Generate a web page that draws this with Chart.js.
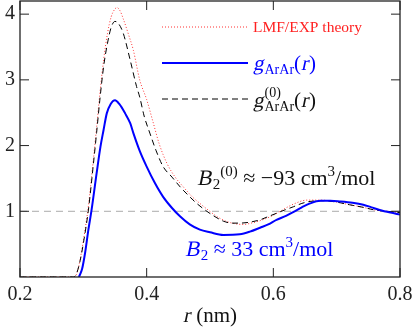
<!DOCTYPE html>
<html>
<head>
<meta charset="utf-8">
<script src="https://cdn.jsdelivr.net/npm/chart.js@4/dist/chart.umd.min.js"></script>
</head>
<body style="margin:0">
<div style="width:415px;height:331px"><canvas id="gr" width="415" height="331"></canvas></div>
<script>
// axis ticks
const xTicks = [0.2, 0.4, 0.6, 0.8]
const yTicks = [1, 2, 3, 4]

// g_ArAr(r), full (blue)
const rFull = [0.293, 0.298, 0.303, 0.308, 0.313, 0.321, 0.327, 0.332, 0.337, 0.343, 0.350, 0.357,
  0.366, 0.374, 0.379, 0.389, 0.400, 0.413, 0.426, 0.440, 0.453, 0.468, 0.484, 0.500, 0.521, 0.547,
  0.563, 0.579, 0.592, 0.605, 0.620, 0.632, 0.645, 0.658, 0.674, 0.690, 0.705, 0.725, 0.742, 0.755,
  0.768, 0.785, 0.800]
const gFull = [0, 0.12, 0.38, 0.72, 1.02, 1.58, 1.98, 2.24, 2.49, 2.63, 2.69, 2.63,
  2.49, 2.34, 2.19, 1.92, 1.68, 1.43, 1.22, 1.05, 0.92, 0.80, 0.72, 0.68, 0.64, 0.65,
  0.69, 0.75, 0.80, 0.87, 0.93, 0.99, 1.06, 1.12, 1.16, 1.16, 1.15, 1.13, 1.10, 1.06,
  1.02, 0.98, 0.95]

// g^(0)_ArAr(r), reference system (black dashed)
const rRef = [0.200, 0.285, 0.2895, 0.295, 0.300, 0.308, 0.316, 0.321, 0.326, 0.332, 0.338, 0.344,
  0.350, 0.356, 0.363, 0.374, 0.384, 0.389, 0.396, 0.405, 0.415, 0.426, 0.440, 0.453, 0.466, 0.479,
  0.495, 0.511, 0.521, 0.535, 0.547, 0.560, 0.579, 0.592, 0.605, 0.618, 0.632, 0.645, 0.658, 0.679,
  0.700, 0.720, 0.742, 0.760, 0.780, 0.800]
const gRef = [0, 0, 0.06, 0.25, 0.51, 1.02, 1.73, 2.20, 2.69, 3.20, 3.55, 3.80,
  3.89, 3.85, 3.71, 3.30, 2.90, 2.74, 2.45, 2.19, 1.92, 1.68, 1.52, 1.37, 1.24, 1.12,
  1.00, 0.90, 0.85, 0.82, 0.82, 0.83, 0.87, 0.92, 0.97, 1.02, 1.07, 1.12, 1.15, 1.16,
  1.14, 1.10, 1.06, 1.02, 1.00, 0.98]

// LMF/EXP theory (red dotted)
const rLmf = [0.200, 0.285, 0.290, 0.295, 0.300, 0.308, 0.316, 0.321, 0.326, 0.332, 0.338, 0.344,
  0.350, 0.353, 0.358, 0.363, 0.371, 0.379, 0.389, 0.400, 0.410, 0.420, 0.432, 0.445, 0.458, 0.471,
  0.484, 0.497, 0.511, 0.525, 0.540, 0.553, 0.565, 0.580, 0.600, 0.616, 0.632, 0.653, 0.675, 0.700,
  0.720, 0.742, 0.760, 0.780, 0.800]
const gLmf = [0, 0, 0.06, 0.27, 0.55, 1.08, 1.80, 2.28, 2.78, 3.30, 3.70, 3.96,
  4.08, 4.10, 4.05, 3.93, 3.70, 3.45, 3.00, 2.70, 2.36, 2.02, 1.73, 1.52, 1.37, 1.23,
  1.12, 1.02, 0.92, 0.85, 0.81, 0.80, 0.82, 0.86, 0.94, 1.03, 1.11, 1.17, 1.17, 1.14,
  1.10, 1.06, 1.02, 1.00, 0.98]

// g = 1 reference line
const rOne = [0.2, 0.8]
const gOne = [1, 1]

const FONT = '"Liberation Serif", "DejaVu Serif", serif'
const BASE = '20px ' + FONT
const pts = (xs, ys) => xs.map((x, i) => ({ x, y: ys[i] }))

// one 20px face for everything; size and slant come from the transform
DrawPiece = (ctx, t, x, y, s, italic) => {
    const k = s / 20
    ctx.save()
    ctx.translate(x, y)
    ctx.scale(k, k)
    if (italic) ctx.transform(1, 0, -0.21, 1, 0, 0)
    ctx.font = BASE
    ctx.fillText(t, 0, 0)
    const w = ctx.measureText(t).width * k
    ctx.restore()
    return w
}

// draw a run of text pieces (for sub/superscripts)
DrawRuns = (ctx, x, y, color, runs) => {
    ctx.save()
    ctx.fillStyle = color
    ctx.textAlign = 'left'
    ctx.textBaseline = 'alphabetic'
    runs.forEach(r => {
        if (r.stack) {
            let w = 0
            r.stack.forEach(p => { w = Math.max(w, DrawPiece(ctx, p.t, x, y + p.dy, p.s, p.i)) })
            x += w
        } else {
            x += DrawPiece(ctx, r.t, x, y + (r.dy || 0), r.s, r.i) + (r.i ? 1 : 0)
        }
    })
    ctx.restore()
}

RunWidth = (ctx, runs) => {
    ctx.save()
    ctx.font = BASE
    const w = runs.reduce((acc, r) => acc + ctx.measureText(r.t).width * r.s / 20 + (r.i ? 1 : 0), 0)
    ctx.restore()
    return w
}

const frameAndText = {
    id: 'frameAndText',
    afterDraw(chart) {
        const { ctx, chartArea: a, scales: { x, y } } = chart
        ctx.save()
        // frame
        ctx.strokeStyle = '#222'
        ctx.lineWidth = 1.3
        ctx.strokeRect(a.left, a.top, a.right - a.left, a.bottom - a.top)
        // inward ticks on all sides
        ctx.lineWidth = 1
        ctx.beginPath()
        xTicks.forEach(v => {
            const px = x.getPixelForValue(v)
            ctx.moveTo(px, a.bottom); ctx.lineTo(px, a.bottom - 9)
            ctx.moveTo(px, a.top); ctx.lineTo(px, a.top + 9)
        })
        yTicks.forEach(v => {
            const py = y.getPixelForValue(v)
            ctx.moveTo(a.left, py); ctx.lineTo(a.left + 9, py)
            ctx.moveTo(a.right, py); ctx.lineTo(a.right - 9, py)
        })
        ctx.stroke()

        // legend
        const lx0 = 162, lx1 = 248, tx = 253
        ctx.lineWidth = 1
        ctx.strokeStyle = '#ff3030'
        ctx.setLineDash([1, 2])
        ctx.beginPath(); ctx.moveTo(lx0, 27); ctx.lineTo(lx1, 27); ctx.stroke()
        ctx.setLineDash([])
        ctx.strokeStyle = '#0000ff'
        ctx.lineWidth = 2
        ctx.beginPath(); ctx.moveTo(lx0, 63); ctx.lineTo(lx1, 63); ctx.stroke()
        ctx.strokeStyle = '#000'
        ctx.lineWidth = 1
        ctx.setLineDash([6, 4])
        ctx.beginPath(); ctx.moveTo(lx0, 99); ctx.lineTo(lx1, 99); ctx.stroke()
        ctx.setLineDash([])
        ctx.restore()

        DrawRuns(ctx, tx, 32, '#ff2020', [{ t: 'LMF/EXP theory', s: 15.5 }])
        DrawRuns(ctx, tx, 70, '#0000ff', [
            { t: 'g', s: 21, i: true },
            { t: 'ArAr', s: 14, dy: 4 },
            { t: '(', s: 21 }, { t: 'r', s: 21, i: true }, { t: ')', s: 21 }
        ])
        DrawRuns(ctx, tx, 107, '#111', [
            { t: 'g', s: 21, i: true },
            { stack: [{ t: '(0)', s: 14, dy: -10 }, { t: 'ArAr', s: 14, dy: 4 }] },
            { t: '(', s: 21 }, { t: 'r', s: 21, i: true }, { t: ')', s: 21 }
        ])

        // annotations
        DrawRuns(ctx, x.getPixelForValue(0.4795), y.getPixelForValue(1.40), '#111', [
            { t: 'B', s: 22, i: true },
            { t: '2', s: 15, dy: 4 },
            { t: '(0)', s: 15, dy: -9 },
            { t: ' \u2248 \u221293 cm', s: 22 },
            { t: '3', s: 15, dy: -9 },
            { t: '/mol', s: 22 }
        ])
        DrawRuns(ctx, x.getPixelForValue(0.4605), y.getPixelForValue(0.32), '#0000ff', [
            { t: 'B', s: 22, i: true },
            { t: '2', s: 15, dy: 4 },
            { t: ' \u2248 33 cm', s: 22 },
            { t: '3', s: 15, dy: -9 },
            { t: '/mol', s: 22 }
        ])

        // x axis title
        const title = [{ t: 'r', s: 21, i: true }, { t: ' (nm)', s: 21 }]
        const cx = (a.left + a.right) / 2
        DrawRuns(ctx, cx - RunWidth(ctx, title) / 2, 322, '#111', title)
    }
}

new Chart('gr', {
    type: 'line',
    data: {
        datasets: [
            { data: pts(rOne, gOne), borderColor: '#aaaaaa', borderWidth: 1, borderDash: [7, 5], order: 4 },
            { data: pts(rLmf, gLmf), borderColor: '#ff3030', borderWidth: 1, borderDash: [1, 2], order: 3 },
            { data: pts(rRef, gRef), borderColor: '#000000', borderWidth: 1, borderDash: [6, 4], order: 2 },
            { data: pts(rFull, gFull), borderColor: '#0000ff', borderWidth: 2, order: 1 }
        ]
    },
    options: {
        responsive: false,
        animation: false,
        layout: { autoPadding: false, padding: { top: 1, right: 15, left: 0, bottom: 0 } },
        elements: {
            point: { radius: 0 },
            line: { cubicInterpolationMode: 'monotone', fill: false }
        },
        plugins: { legend: { display: false }, tooltip: { enabled: false } },
        scales: {
            x: {
                type: 'linear', min: 0.2, max: 0.8,
                afterBuildTicks: s => { s.ticks = xTicks.map(v => ({ value: v })) },
                afterFit: s => { s.height = 54; s.paddingLeft = 0; s.paddingRight = 0 },
                grid: { display: false, drawTicks: false },
                border: { display: false },
                ticks: {
                    padding: 6, color: '#222', font: { family: FONT, size: 20 },
                    maxRotation: 0, callback: v => v.toFixed(1)
                }
            },
            y: {
                type: 'linear', min: 0, max: 4.2,
                afterBuildTicks: s => { s.ticks = yTicks.map(v => ({ value: v })) },
                afterFit: s => { s.width = 20; s.paddingTop = 0; s.paddingBottom = 0 },
                grid: { display: false, drawTicks: false },
                border: { display: false },
                ticks: {
                    padding: 5, color: '#222', font: { family: FONT, size: 20 },
                    callback: v => String(v)
                }
            }
        }
    },
    plugins: [frameAndText]
})
</script>
</body>
</html>
